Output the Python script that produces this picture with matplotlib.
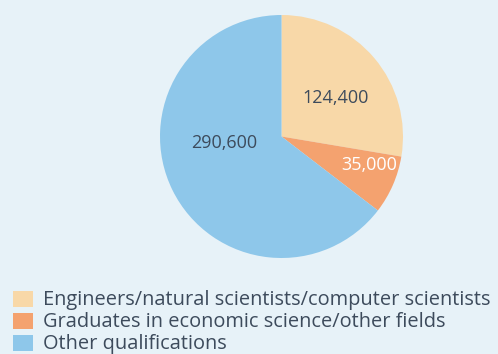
import matplotlib
matplotlib.use("Agg")
import matplotlib.pyplot as plt

categories = ["Engineers/natural scientists/computer scientists",
              "Graduates in economic science/other fields",
              "Other qualifications"]
values = [124400, 35000, 290600]
colors = ["#f8d8a8", "#f4a26f", "#8ec7ea"]
bg = "#e7f2f8"

W, H = 498, 354
fig = plt.figure(figsize=(W / 100, H / 100), dpi=100, facecolor=bg)
ax = fig.add_axes([0, 0, 1, 1])
ax.set_facecolor(bg)

cx, cy, r = 281.5, H - 136.5, 121.5
ax.pie(values, colors=colors, startangle=90, counterclock=False,
       center=(cx, cy), radius=r, wedgeprops=dict(linewidth=0))
ax.set_xlim(0, W)
ax.set_ylim(0, H)
ax.set_aspect("equal")
ax.axis("off")

font = "Open Sans"
label_pos = [(336, 98, "#3d4b5c"), (369, 165, "white"), (224, 143, "#3d4b5c")]
for v, (x, y, c) in zip(values, label_pos):
    ax.text(x, H - y, f"{v:,}", ha="center", va="center", fontsize=13,
            color=c, family=font)

# legend rows
for i, (cat, col) in enumerate(zip(categories, colors)):
    y = 299 + i * 22
    ax.add_patch(plt.Rectangle((13, H - y - 8), 20, 16, color=col, lw=0))
    ax.text(43, H - y - 1, cat, ha="left", va="center", fontsize=14.4,
            color="#3d4b5c", family=font)

fig.savefig("out.png", dpi=100, facecolor=bg)
